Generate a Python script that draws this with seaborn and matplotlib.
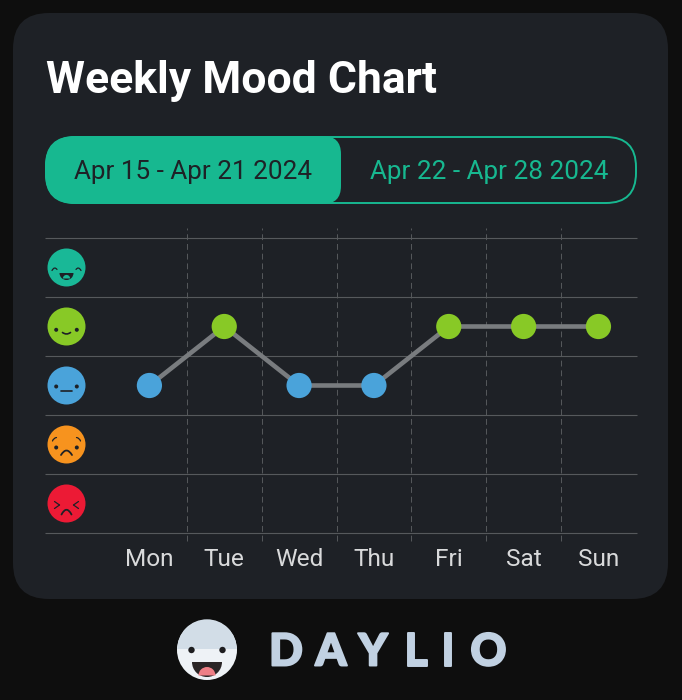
import matplotlib
matplotlib.use("Agg")
import matplotlib.pyplot as plt
import matplotlib.patheffects as pe
from matplotlib.patches import Circle, PathPatch, Wedge
from matplotlib.path import Path
import pandas as pd
import seaborn as sns

days = ["Mon", "Tue", "Wed", "Thu", "Fri", "Sat", "Sun"]
mood_scores = [3, 4, 3, 3, 4, 4, 4]
mood_levels = [5, 4, 3, 2, 1]
mood_colors = {5: "#19b897", 4: "#88c926", 3: "#4aa3da", 2: "#f7931e", 1: "#ec1a35"}
title = "Weekly Mood Chart"
week_labels = ["Apr 15 - Apr 21 2024", "Apr 22 - Apr 28 2024"]
brand_letters = ["D", "A", "Y", "L", "I", "O"]

PAGE = "#0e0e0e"
CARD = "#1e2126"
ACCENT = "#17b890"
GRID = "#56595c"
INK = "#1e2126"

sns.set_theme(style="dark")
plt.rcParams["font.family"] = ["Roboto", "DejaVu Sans"]

fig = plt.figure(figsize=(6.82, 7.0), dpi=100, facecolor=PAGE)

# Background layer measured in pixels, y pointing down
bg = fig.add_axes([0, 0, 1, 1], zorder=0)
bg.set_xlim(0, 682)
bg.set_ylim(700, 0)
bg.axis("off")


def rounded(x0, y0, x1, y1, radii):
    """Rectangle with its own radius per corner: tl, tr, br, bl."""
    tl, tr, br, bl = radii
    M, L, C = Path.MOVETO, Path.LINETO, Path.CURVE3
    verts = [(x0 + tl, y0), (x1 - tr, y0), (x1, y0), (x1, y0 + tr),
             (x1, y1 - br), (x1, y1), (x1 - br, y1),
             (x0 + bl, y1), (x0, y1), (x0, y1 - bl),
             (x0, y0 + tl), (x0, y0), (x0 + tl, y0)]
    codes = [M, L, C, C, L, C, C, L, C, C, L, C, C]
    return Path(verts, codes)


def stroke(pts, lw=0.9, color=INK):
    """Quadratic curve through three points, or a straight segment through two."""
    if len(pts) == 3:
        codes = [Path.MOVETO, Path.CURVE3, Path.CURVE3]
    else:
        codes = [Path.MOVETO, Path.LINETO]
    bg.add_patch(PathPatch(Path(pts, codes), fill=False, lw=lw, ec=color,
                           capstyle="round", joinstyle="round", zorder=5))


def draw_face(level, cx, cy, r=19):
    bg.add_patch(Circle((cx, cy), r, fc=mood_colors[level], ec="none", zorder=4))

    def dots(dx, dy):
        for s in (-1, 1):
            bg.add_patch(Circle((cx + s * dx, cy + dy), 2.0, fc=INK, ec="none", zorder=5))

    if level == 5:
        for s in (-1, 1):
            stroke([(cx + s * 14.5, cy + 3), (cx + s * 12, cy - 1.5), (cx + s * 9.5, cy + 2)])
        bg.add_patch(Wedge((cx, cy + 5.5), 7, 0, 180, fc=INK, ec="none", zorder=5))
        bg.add_patch(Wedge((cx, cy + 11), 3.6, 180, 360, fc=mood_colors[5], ec="none", zorder=6))
    elif level == 4:
        dots(10.3, 3.3)
        stroke([(cx - 4, cy + 6), (cx, cy + 9), (cx + 4, cy + 6)], lw=1.2)
    elif level == 3:
        dots(10.3, 1)
        stroke([(cx - 5.5, cy + 5), (cx + 5.5, cy + 5)], lw=1.2)
    elif level == 2:
        dots(10.3, 3)
        for s in (-1, 1):
            stroke([(cx + s * 14, cy - 3.5), (cx + s * 13, cy - 6.5), (cx + s * 10, cy - 7)])
        stroke([(cx - 5.5, cy + 10.5), (cx, cy + 1.5), (cx + 5.5, cy + 10.5)], lw=1.3)
    else:
        for s in (-1, 1):
            stroke([(cx + s * 12, cy - 2), (cx + s * 7, cy + 1.5)])
            stroke([(cx + s * 7, cy + 1.5), (cx + s * 12, cy + 5)])
        stroke([(cx - 5, cy + 11), (cx, cy + 1.5), (cx + 5, cy + 11)], lw=1.3)


# Card and week selector
bg.add_patch(PathPatch(rounded(13, 13, 668, 599, (36, 36, 36, 36)), fc=CARD, ec="none"))
bg.add_patch(PathPatch(rounded(46, 137, 636, 203, (30, 30, 30, 30)), fc="none", ec=ACCENT, lw=1.4))
bg.add_patch(PathPatch(rounded(45, 136, 341, 204, (30, 18, 18, 30)), fc=ACCENT, ec="none", zorder=2))

bg.text(45.5, 76.5, title, color="white", fontsize=32, fontweight="bold", va="center_baseline", ha="left")
bg.text(193.5, 170, week_labels[0], color=INK, fontsize=18.8, ha="center", va="center_baseline", zorder=3)
bg.text(489.5, 170, week_labels[1], color=ACCENT, fontsize=18.8, ha="center", va="center_baseline", zorder=3)

# Chart area: five mood rows and seven day columns
ax = fig.add_axes([45 / 682, 1 - 533 / 700, 592 / 682, 295 / 700], zorder=1)
ax.patch.set_alpha(0)
frame = pd.DataFrame({"day": days, "mood": mood_scores})

sns.lineplot(data=frame, x="day", y="mood", sort=False, color="#797c7f", linewidth=3.3,
             errorbar=None, ax=ax, zorder=3)
sns.scatterplot(data=frame, x="day", y="mood", hue="mood", palette=mood_colors, s=330,
                linewidth=0, legend=False, ax=ax, zorder=4, clip_on=False)

ax.set_xlim(-1.395, 6.515)
ax.set_ylim(0.5, 5.5)
ax.set_yticks([])
ax.set_xlabel("")
ax.set_ylabel("")
ax.grid(False)
for spine in ax.spines.values():
    spine.set_visible(False)

ax.hlines([v + 0.5 for v in range(0, 6)], -1.395, 6.515, color=GRID, lw=0.8, zorder=1, clip_on=False)
ax.vlines([i - 0.5 for i in range(1, 7)], 0.364, 5.67, color=GRID, lw=0.7,
          linestyles=(0, (6, 4)), zorder=1, clip_on=False)

ax.tick_params(axis="x", length=0, pad=10.5, labelsize=17.6, labelcolor="#d9dadb")

# Mood scale faces beside each row
for lvl, yc in zip(mood_levels, [267.5, 326.5, 385.5, 444.5, 503.5]):
    draw_face(lvl, 66.5, yc)

# Brand mark below the card
bg.add_patch(Circle((207, 650), 30, fc="#eef2f6", ec="none"))
bg.add_patch(Wedge((207, 649), 29.7, 180, 360, fc="#d2dde7", ec="none"))
for dx in (-15.5, 15.5):
    bg.add_patch(Circle((207 + dx, 650), 3.2, fc="#1d1d1f", ec="none", zorder=3))
bg.add_patch(Wedge((207, 662), 15, 0, 180, fc="#2a2526", ec="none", zorder=3))
bg.add_patch(Wedge((207, 675.5), 8.5, 180, 360, fc="#ee7f86", ec="none", zorder=4))

for letter, xc in zip(brand_letters, [286, 331, 373, 416, 448, 488.5]):
    bg.text(xc, 649, letter, color="#c1d1e2", fontsize=32, fontweight="black",
            family="Lato", ha="center", va="center_baseline",
            path_effects=[pe.withStroke(linewidth=1.4, foreground="#c1d1e2")])

fig.savefig("out.png", dpi=100, facecolor=PAGE)
